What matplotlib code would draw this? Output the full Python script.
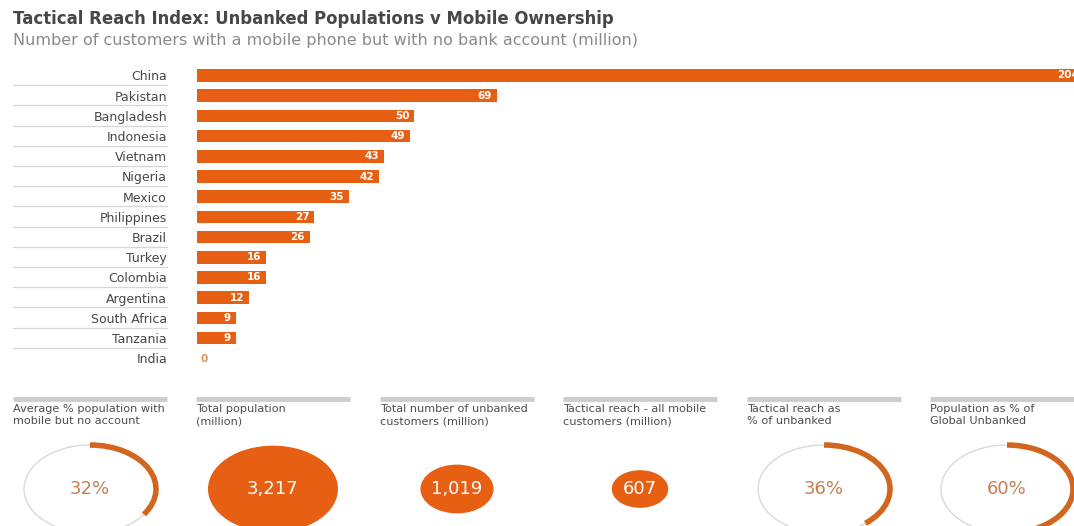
import numpy as np
import matplotlib
matplotlib.use("Agg")
import matplotlib.pyplot as plt
from matplotlib.patches import Ellipse, Arc

# bar chart data (million customers with a mobile phone but no bank account)
countries = ['China', 'Pakistan', 'Bangladesh', 'Indonesia', 'Vietnam', 'Nigeria',
             'Mexico', 'Philippines', 'Brazil', 'Turkey', 'Colombia', 'Argentina',
             'South Africa', 'Tanzania', 'India']
customers = [204, 69, 50, 49, 43, 42, 35, 27, 26, 16, 16, 12, 9, 9, 0]

# summary panels along the bottom
panel_titles = ['Average % population with\nmobile but no account',
                'Total population\n(million)',
                'Total number of unbanked\ncustomers (million)',
                'Tactical reach - all mobile\ncustomers (million)',
                'Tactical reach as\n% of unbanked',
                'Population as % of\nGlobal Unbanked']
panel_kind = ['ring', 'bubble', 'bubble', 'bubble', 'ring', 'ring']
panel_values = [32, 3217, 1019, 607, 36, 60]

ORANGE = '#e65f13'
ARC = '#d2661f'
DARK = '#474747'
GREY = '#8a8a8a'

W, H = 1074, 526
fig = plt.figure(figsize=(W / 100, H / 100), dpi=100)
fig.patch.set_facecolor('white')

# overlay axes in pixel units for the panels / titles
bg = fig.add_axes([0, 0, 1, 1])
bg.set_xlim(0, W)
bg.set_ylim(0, H)
bg.axis('off')

bg.text(13, H - 19, 'Tactical Reach Index: Unbanked Populations v Mobile Ownership',
        fontsize=11.9, fontweight='bold', color=DARK, va='center', ha='left')
bg.text(13, H - 41, 'Number of customers with a mobile phone but with no bank account (million)',
        fontsize=11.5, color=GREY, va='center', ha='left')

# ---- bar chart ----
x0 = 196.7          # pixel where bars start
px_per_unit = 4.35
row0, row_step = 75.5, 20.2
top_px, bot_px = 62, 372
ax = fig.add_axes([x0 / W, 1 - bot_px / H, (W - x0) / W, (bot_px - top_px) / H])
ax.patch.set_alpha(0)
ax.set_xlim(0, (W - x0) / px_per_unit)
ax.set_ylim((bot_px - row0) / row_step, (top_px - row0) / row_step)
for s in ax.spines.values():
    s.set_visible(False)

ypos = np.arange(len(countries))
ax.barh(ypos, customers, height=0.62, color=ORANGE)
ax.set_xticks([])
ax.set_yticks(ypos)
ax.set_yticklabels(countries, fontsize=9, color=DARK)
ax.tick_params(axis='y', length=0, pad=(x0 - 167) * 0.72)

for i, v in zip(ypos, customers):
    if v > 0:
        ax.text(v - 1.1, i, str(v), ha='right', va='center', color='white',
                fontsize=7.5, fontweight='bold', clip_on=False)
    else:
        ax.text(0.9, i + 0.05, str(v), ha='left', va='center', color='#e0924f',
                fontsize=7.5, fontweight='bold')

# thin separators under the country names
sep_x = [(13 - x0) / px_per_unit, (167 - x0) / px_per_unit]
for i in ypos[:-1]:
    ax.plot(sep_x, [i + 0.48, i + 0.48], color='#d6d6d6', lw=0.9, clip_on=False)

# ---- summary panels ----
panel_left = [13, 196, 380, 563, 747, 930]
panel_w = 154
cy = H - 489
ring_rx, ring_ry = 66, 44
big_rx = 65
for left, title, kind, val in zip(panel_left, panel_titles, panel_kind, panel_values):
    bg.plot([left, left + panel_w], [H - 398.5, H - 398.5], color='#cdcdcd', lw=3.5,
            solid_capstyle='butt')
    bg.text(left, H - 404.5, title, fontsize=8.1, color='#4d4d4d', va='top', ha='left',
            linespacing=1.25)
    cx = left + panel_w / 2
    if kind == 'ring':
        bg.add_patch(Ellipse((cx, cy), 2 * ring_rx, 2 * ring_ry, fill=False,
                             ec='#d9d9d9', lw=1.0))
        bg.add_patch(Arc((cx, cy), 2 * ring_rx, 2 * ring_ry, theta1=90 - 3.6 * val,
                         theta2=90, color=ARC, lw=4))
        bg.text(cx, cy, f'{val}%', fontsize=13, color='#c47f55', ha='center', va='center')
    else:
        rx = big_rx * np.sqrt(val / max(v for k, v in zip(panel_kind, panel_values)
                                         if k == 'bubble'))
        bg.add_patch(Ellipse((cx, cy), 2 * rx, 2 * rx / 1.5, color=ORANGE, lw=0))
        bg.text(cx, cy, f'{val:,}', fontsize=13, color='white', ha='center', va='center')

fig.savefig('out.png', dpi=100, facecolor='white')
